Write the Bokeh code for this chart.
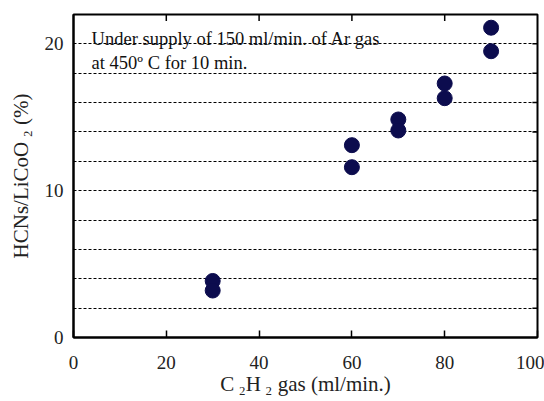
from bokeh.plotting import figure
from bokeh.models import LinearAxis, FixedTicker, Range1d, ColumnDataSource, Label
from bokeh.embed import file_html
from bokeh.resources import INLINE

flow = [30, 30, 60, 60, 70, 70, 80, 80, 90, 90]
hcn_ratio = [3.85, 3.2, 13.1, 11.6, 14.85, 14.1, 17.3, 16.3, 21.1, 19.5]
x_ticks = [0, 20, 40, 60, 80, 100]
y_ticks = [0, 10, 20]
y_grid = [2, 4, 6, 8, 10, 12, 14, 16, 18, 20]
note_lines = ["Under supply of 150 ml/min. of Ar gas", "at 450\u00ba C for 10 min."]

FONT = "Liberation Serif"

p = figure(width=544, height=401, x_range=Range1d(0, 100), y_range=Range1d(0, 22),
           output_backend="svg", toolbar_location=None,
           min_border_left=73, min_border_right=7, min_border_top=14, min_border_bottom=64,
           x_axis_location=None, y_axis_location=None)
p.background_fill_color = "white"
p.border_fill_color = "white"
p.outline_line_color = "black"
p.outline_line_width = 2

p.xgrid.visible = False
p.ygrid.ticker = FixedTicker(ticks=y_grid)
p.ygrid.grid_line_color = "black"
p.ygrid.grid_line_dash = "3 2"
p.ygrid.grid_line_width = 1

def style(ax):
    ax.axis_line_color = "black"
    ax.axis_line_width = 2
    ax.major_tick_line_color = "black"
    ax.major_tick_line_width = 1.5
    ax.minor_tick_line_color = None
    ax.major_label_text_font = FONT
    ax.major_label_text_font_size = "19px"
    ax.major_label_text_color = "#222222"
    ax.axis_label_text_font = FONT
    ax.axis_label_text_font_style = "normal"
    ax.axis_label_text_font_size = "21px"
    ax.axis_label_text_color = "#222222"

xb = LinearAxis(ticker=FixedTicker(ticks=x_ticks), axis_label="C\u2009\u2082H\u2009\u2082 gas (ml/min.)")
style(xb)
xb.major_tick_in = 7
xb.major_tick_out = 0
xb.major_label_standoff = 18
xb.axis_label_standoff = 0
p.add_layout(xb, "below")

yl = LinearAxis(ticker=FixedTicker(ticks=y_ticks), axis_label="HCNs/LiCoO\u2009\u2082 (%)")
style(yl)
yl.major_tick_in = 0
yl.major_tick_out = 0
yl.major_label_standoff = 10
yl.axis_label_standoff = 9
p.add_layout(yl, "left")

# inward ticks on top edge (x) and right edge (y), drawn in data space
top_ticks = [t for t in x_ticks if 0 < t < 100]
p.segment(x0=top_ticks, y0=[22] * len(top_ticks), x1=top_ticks, y1=[21.55] * len(top_ticks),
          line_color="black", line_width=1.5)
p.segment(x0=[100] * len(y_grid), y0=y_grid, x1=[98.9] * len(y_grid), y1=y_grid,
          line_color="black", line_width=1.5)

src = ColumnDataSource(dict(x=flow, y=hcn_ratio))
p.scatter("x", "y", source=src, size=15, fill_color="#0c0c4e", line_color="#0c0c4e")

for i, t in enumerate(note_lines):
    p.add_layout(Label(x=3.9, y=20.35 - i * 1.63, text=t,
                       text_font=FONT, text_font_size="18.5px", text_color="#111111",
                       text_baseline="alphabetic"))

open("out.html", "w").write(file_html(p, INLINE))
